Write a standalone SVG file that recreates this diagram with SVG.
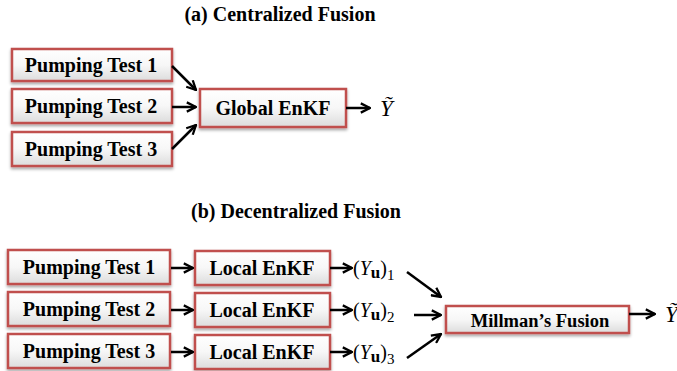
<svg xmlns="http://www.w3.org/2000/svg" width="677" height="371" viewBox="0 0 677 371">
<style>
.box{fill:url(#g);stroke:#c0504d;stroke-width:2.5;filter:url(#sh)}
.t{font-family:"Liberation Serif",serif;font-weight:bold;font-size:20px;fill:#000;text-anchor:middle}
.ttl{font-family:"Liberation Serif",serif;font-weight:bold;font-size:20px;fill:#000;text-anchor:middle}
.c{stroke:#000;stroke-width:2.5;fill:none;marker-end:url(#ah)}
.m{font-family:"Liberation Serif",serif;font-size:20px;fill:#000}
.yt{font-family:"Liberation Serif",serif;font-size:23px;font-style:italic;fill:#000}
</style>
<defs>
<linearGradient id="g" x1="0" y1="0" x2="0" y2="1">
<stop offset="0" stop-color="#ffffff"/>
<stop offset="0.5" stop-color="#f7f7f7"/>
<stop offset="1" stop-color="#dcdcdc"/>
</linearGradient>
<filter id="sh" x="-10%" y="-20%" width="120%" height="160%">
<feDropShadow dx="0" dy="2" stdDeviation="1.5" flood-color="#000" flood-opacity="0.35"/>
</filter>
<marker id="ah" viewBox="0 0 10 10" refX="9" refY="5" markerWidth="4.6" markerHeight="4.6" orient="auto" markerUnits="strokeWidth">
<path d="M1,1 L9,5 L1,9" fill="none" stroke="#000" stroke-width="2"/>
</marker>
</defs>

<text class="ttl" x="280" y="21">(a) Centralized Fusion</text>
<text class="ttl" x="296" y="218">(b) Decentralized Fusion</text>

<g id="a_pt1"><rect class="box" x="12" y="49" width="160" height="32"/><text class="t" x="91" y="72">Pumping Test 1</text></g>
<g id="a_pt2"><rect class="box" x="12" y="89" width="160" height="34"/><text class="t" x="91" y="113">Pumping Test 2</text></g>
<g id="a_pt3"><rect class="box" x="12" y="132" width="160" height="34"/><text class="t" x="91" y="156">Pumping Test 3</text></g>
<g id="a_global"><rect class="box" x="200" y="89" width="146" height="38"/><text class="t" x="273" y="115">Global EnKF</text></g>
<g id="a_out"><text class="yt" x="380" y="116">Ỹ</text></g>

<g id="b_pt1"><rect class="box" x="8" y="250" width="162" height="34"/><text class="t" x="89" y="274">Pumping Test 1</text></g>
<g id="b_pt2"><rect class="box" x="8" y="292" width="162" height="34"/><text class="t" x="89" y="316">Pumping Test 2</text></g>
<g id="b_pt3"><rect class="box" x="8" y="334" width="162" height="34"/><text class="t" x="89" y="358">Pumping Test 3</text></g>
<g id="b_l1"><rect class="box" x="195" y="251" width="135" height="34"/><text class="t" x="262" y="275">Local EnKF</text></g>
<g id="b_l2"><rect class="box" x="195" y="293" width="135" height="34"/><text class="t" x="262" y="317">Local EnKF</text></g>
<g id="b_l3"><rect class="box" x="195" y="335" width="135" height="34"/><text class="t" x="262" y="359">Local EnKF</text></g>
<g id="b_y1"><text class="m" x="353" y="275">(<tspan font-style="italic">Y</tspan><tspan font-weight="bold" font-size="17" dy="3">u</tspan><tspan dy="-3">)</tspan><tspan font-size="15" dy="5">1</tspan></text></g>
<g id="b_y2"><text class="m" x="353" y="317">(<tspan font-style="italic">Y</tspan><tspan font-weight="bold" font-size="17" dy="3">u</tspan><tspan dy="-3">)</tspan><tspan font-size="15" dy="5">2</tspan></text></g>
<g id="b_y3"><text class="m" x="353" y="359">(<tspan font-style="italic">Y</tspan><tspan font-weight="bold" font-size="17" dy="3">u</tspan><tspan dy="-3">)</tspan><tspan font-size="15" dy="5">3</tspan></text></g>
<g id="b_mill"><rect class="box" x="446" y="306" width="183" height="27"/><text class="t" x="540" y="327" style="font-size:18.5px">Millman’s Fusion</text></g>
<g id="b_out"><text class="yt" x="665" y="322">Ỹ</text></g>

<g id="connectors">
<line class="c" x1="172" y1="66" x2="196" y2="90"/>
<line class="c" x1="172" y1="107" x2="196" y2="107"/>
<line class="c" x1="172" y1="149" x2="196" y2="125"/>
<line class="c" x1="346" y1="108" x2="370" y2="108"/>
<line class="c" x1="171" y1="268" x2="193" y2="268"/>
<line class="c" x1="171" y1="310" x2="193" y2="310"/>
<line class="c" x1="171" y1="352" x2="193" y2="352"/>
<line class="c" x1="330" y1="268" x2="352" y2="268"/>
<line class="c" x1="330" y1="310" x2="352" y2="310"/>
<line class="c" x1="330" y1="352" x2="352" y2="352"/>
<line class="c" x1="407" y1="272" x2="441" y2="297"/>
<line class="c" x1="414" y1="315" x2="441" y2="315"/>
<line class="c" x1="407" y1="358" x2="441" y2="334"/>
<line class="c" x1="629" y1="314" x2="655" y2="314"/>
</g>
</svg>
